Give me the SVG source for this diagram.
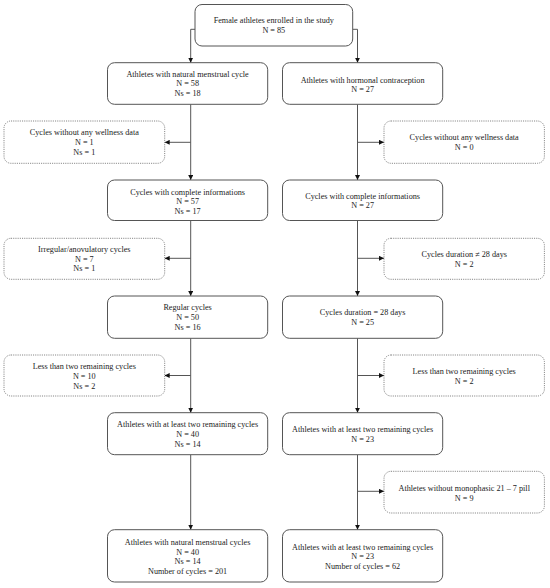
<svg xmlns="http://www.w3.org/2000/svg" width="550" height="588" viewBox="0 0 550 588">
<style>
.box{fill:#fff;stroke:#555;stroke-width:1}
.dbox{fill:#fff;stroke:#666;stroke-width:0.8;stroke-dasharray:1.1,1.1}
.t{font-family:"Liberation Serif","Times New Roman",serif;font-size:8.2px;fill:#222;text-anchor:middle}
.c{fill:none;stroke:#555;stroke-width:1}
</style>
<defs>
<marker id="ah" markerUnits="userSpaceOnUse" markerWidth="5" markerHeight="5" refX="5" refY="2.5" orient="auto">
<path d="M0,0 L5,2.5 L0,5 z" fill="#111"/>
</marker>
</defs>
<rect width="550" height="588" fill="#fff"/>
<g id="connectors">
<path class="c" d="M195,29.3 H190.7 V62.7" marker-end="url(#ah)"/>
<path class="c" d="M352.7,29.3 H357.5 V62.7" marker-end="url(#ah)"/>
<path class="c" d="M190.7,104.3 V180" marker-end="url(#ah)"/>
<path class="c" d="M190.7,220.5 V296" marker-end="url(#ah)"/>
<path class="c" d="M190.7,338.3 V412.7" marker-end="url(#ah)"/>
<path class="c" d="M190.7,454.7 V529.7" marker-end="url(#ah)"/>
<path class="c" d="M190.7,142.3 H164.7" marker-end="url(#ah)"/>
<path class="c" d="M190.7,258.3 H164.7" marker-end="url(#ah)"/>
<path class="c" d="M190.7,375.5 H164.7" marker-end="url(#ah)"/>
<path class="c" d="M357.5,104.3 V180" marker-end="url(#ah)"/>
<path class="c" d="M357.5,220.5 V296" marker-end="url(#ah)"/>
<path class="c" d="M357.5,338.3 V412.7" marker-end="url(#ah)"/>
<path class="c" d="M357.5,454.7 V529.7" marker-end="url(#ah)"/>
<path class="c" d="M357.5,142.3 H384" marker-end="url(#ah)"/>
<path class="c" d="M357.5,258.3 H384" marker-end="url(#ah)"/>
<path class="c" d="M357.5,375.5 H384" marker-end="url(#ah)"/>
<path class="c" d="M357.5,491.3 H384" marker-end="url(#ah)"/>
</g>
<g id="top">
<rect class="box" x="195" y="4.5" width="157.7" height="41.5" rx="7"/>
<text class="t" x="273.8" y="23.3">Female athletes enrolled in the study</text>
<text class="t" x="273.8" y="33">N = 85</text>
</g>
<g id="L1">
<rect class="box" x="107.5" y="62.7" width="160.2" height="41.6" rx="7"/>
<text class="t" x="187.6" y="76.7">Athletes with natural menstrual cycle</text>
<text class="t" x="187.6" y="86.4">N = 58</text>
<text class="t" x="187.6" y="96.4">Ns = 18</text>
</g>
<g id="R1">
<rect class="box" x="282.5" y="62.7" width="160.2" height="41.6" rx="7"/>
<text class="t" x="362.6" y="82.7">Athletes with hormonal contraception</text>
<text class="t" x="362.6" y="92">N = 27</text>
</g>
<g id="DL1">
<rect class="dbox" x="4" y="121" width="160.7" height="42.3" rx="7"/>
<text class="t" x="84.3" y="135.4">Cycles without any wellness data</text>
<text class="t" x="84.3" y="145.4">N = 1</text>
<text class="t" x="84.3" y="155.4">Ns = 1</text>
</g>
<g id="DR1">
<rect class="dbox" x="384" y="121" width="160.4" height="42.3" rx="7"/>
<text class="t" x="464.2" y="140.4">Cycles without any wellness data</text>
<text class="t" x="464.2" y="150">N = 0</text>
</g>
<g id="L2">
<rect class="box" x="107.5" y="180" width="160.2" height="40.5" rx="7"/>
<text class="t" x="187.6" y="194.5">Cycles with complete informations</text>
<text class="t" x="187.6" y="204.3">N = 57</text>
<text class="t" x="187.6" y="214">Ns = 17</text>
</g>
<g id="R2">
<rect class="box" x="282.5" y="180" width="160.2" height="40.5" rx="7"/>
<text class="t" x="362.6" y="198.7">Cycles with complete informations</text>
<text class="t" x="362.6" y="208.4">N = 27</text>
</g>
<g id="DL2">
<rect class="dbox" x="4" y="238.3" width="160.7" height="41" rx="7"/>
<text class="t" x="84.3" y="252">Irregular/anovulatory cycles</text>
<text class="t" x="84.3" y="261.5">N = 7</text>
<text class="t" x="84.3" y="271">Ns = 1</text>
</g>
<g id="DR2">
<rect class="dbox" x="384" y="238.3" width="160.4" height="41" rx="7"/>
<text class="t" x="464.2" y="257">Cycles duration ≠ 28 days</text>
<text class="t" x="464.2" y="267">N = 2</text>
</g>
<g id="L3">
<rect class="box" x="107.5" y="296" width="160.2" height="42.3" rx="7"/>
<text class="t" x="187.6" y="310.4">Regular cycles</text>
<text class="t" x="187.6" y="320.4">N = 50</text>
<text class="t" x="187.6" y="329.8">Ns = 16</text>
</g>
<g id="R3">
<rect class="box" x="282.5" y="296" width="160.2" height="42.3" rx="7"/>
<text class="t" x="362.6" y="315.4">Cycles duration = 28 days</text>
<text class="t" x="362.6" y="325.4">N = 25</text>
</g>
<g id="DL3">
<rect class="dbox" x="4" y="355" width="160.7" height="41" rx="7"/>
<text class="t" x="84.3" y="369.4">Less than two remaining cycles</text>
<text class="t" x="84.3" y="378.8">N = 10</text>
<text class="t" x="84.3" y="388.7">Ns = 2</text>
</g>
<g id="DR3">
<rect class="dbox" x="384" y="355" width="160.4" height="41" rx="7"/>
<text class="t" x="464.2" y="373.7">Less than two remaining cycles</text>
<text class="t" x="464.2" y="383.7">N = 2</text>
</g>
<g id="L4">
<rect class="box" x="107.5" y="412.7" width="160.2" height="42" rx="7"/>
<text class="t" x="187.6" y="427.4">Athletes with at least two remaining cycles</text>
<text class="t" x="187.6" y="437">N = 40</text>
<text class="t" x="187.6" y="447">Ns = 14</text>
</g>
<g id="R4">
<rect class="box" x="282.5" y="412.7" width="160.2" height="42" rx="7"/>
<text class="t" x="362.6" y="432.4">Athletes with at least two remaining cycles</text>
<text class="t" x="362.6" y="442">N = 23</text>
</g>
<g id="DR4">
<rect class="dbox" x="384" y="471.3" width="160.4" height="41.7" rx="7"/>
<text class="t" x="464.2" y="491.4">Athletes without monophasic 21 – 7 pill</text>
<text class="t" x="464.2" y="500.7">N = 9</text>
</g>
<g id="L5">
<rect class="box" x="107.5" y="529.7" width="160.2" height="52.3" rx="7"/>
<text class="t" x="187.6" y="544.7">Athletes with natural menstrual cycles</text>
<text class="t" x="187.6" y="554.7">N = 40</text>
<text class="t" x="187.6" y="564">Ns = 14</text>
<text class="t" x="187.6" y="574">Number of cycles = 201</text>
</g>
<g id="R5">
<rect class="box" x="282.5" y="529.7" width="160.2" height="52.3" rx="7"/>
<text class="t" x="362.6" y="549.7">Athletes with at least two remaining cycles</text>
<text class="t" x="362.6" y="559">N = 23</text>
<text class="t" x="362.6" y="568.7">Number of cycles = 62</text>
</g>
</svg>
